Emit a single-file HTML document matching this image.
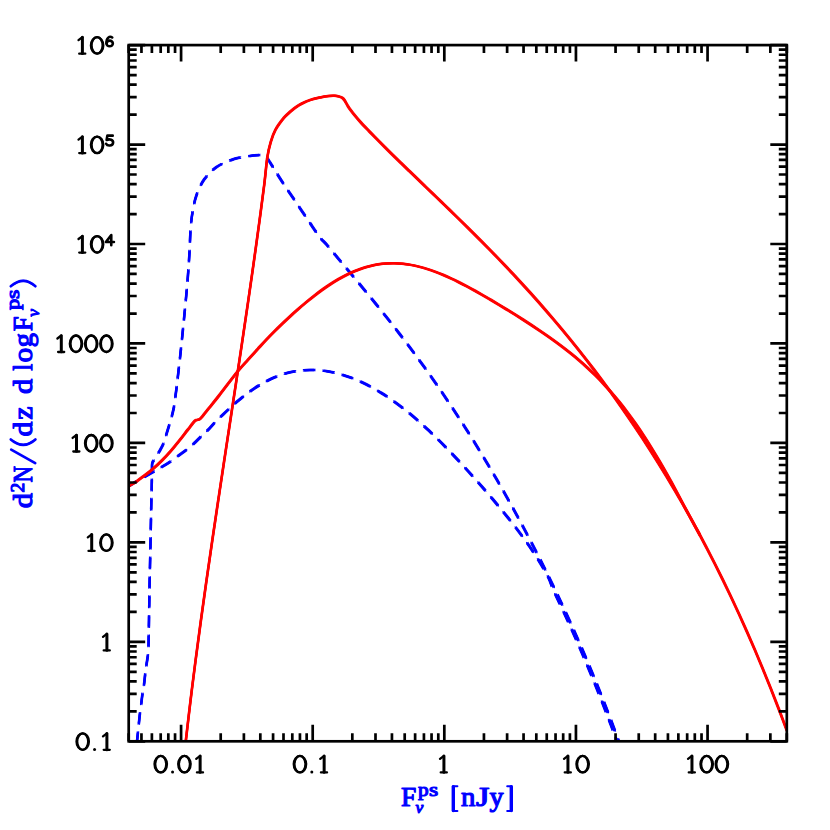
<!DOCTYPE html>
<html><head><meta charset="utf-8"><style>
html,body{margin:0;padding:0;background:#fff}
body{width:830px;height:830px;position:relative;overflow:hidden;font-family:"Liberation Serif",serif}
.bl{position:absolute;color:#0000ff;font-family:"Liberation Serif",serif;font-weight:bold;white-space:nowrap;line-height:1}
</style></head><body>
<svg width="830" height="830" viewBox="0 0 830 830" style="position:absolute;left:0;top:0">
<defs><clipPath id="cp"><rect x="128.70" y="45.10" width="658.10" height="696.20"/></clipPath></defs>
<defs><path id="pB1" d="M137.00,741.30 C137.20,739.43 137.77,734.23 138.20,730.10 C138.63,725.97 139.07,721.12 139.60,716.50 C140.13,711.88 140.88,706.45 141.40,702.40 C141.92,698.35 142.23,695.42 142.70,692.20 C143.17,688.98 143.75,686.42 144.20,683.10 C144.65,679.78 145.00,675.50 145.40,672.30 C145.80,669.10 146.15,667.02 146.60,663.90 C147.05,660.78 147.77,657.18 148.10,653.60 C148.43,650.02 148.40,651.33 148.60,642.40 C148.80,633.47 149.10,611.30 149.30,600.00 C149.50,588.70 149.58,584.87 149.80,574.60 C150.02,564.33 150.35,550.45 150.60,538.40 C150.85,526.35 151.12,510.53 151.30,502.30 C151.48,494.07 151.58,494.38 151.70,489.00 C151.82,483.62 151.92,474.25 152.00,470.00 C152.08,465.75 151.88,465.15 152.20,463.50 C152.52,461.85 152.62,462.28 153.90,460.10 C155.18,457.92 158.28,453.22 159.90,450.40 C161.52,447.58 162.48,446.00 163.60,443.20 C164.72,440.40 165.60,436.82 166.60,433.60 C167.60,430.38 168.60,427.32 169.60,423.90 C170.60,420.48 171.80,416.32 172.60,413.10 C173.40,409.88 173.90,407.62 174.40,404.60 C174.90,401.58 175.23,397.88 175.60,395.00 C175.97,392.12 175.83,393.80 176.60,387.30 C177.37,380.80 178.98,367.23 180.20,356.00 C181.42,344.77 182.68,332.35 183.90,319.90 C185.12,307.45 186.57,292.62 187.50,281.30 C188.43,269.98 188.98,260.77 189.50,252.00 C190.02,243.23 190.08,235.40 190.60,228.70 C191.12,222.00 191.60,217.43 192.60,211.80 C193.60,206.17 194.65,200.32 196.60,194.90 C198.55,189.48 201.00,183.92 204.30,179.30 C207.60,174.68 211.57,170.53 216.40,167.20 C221.23,163.87 227.68,161.18 233.30,159.30 C238.92,157.42 245.68,156.62 250.10,155.90 C254.52,155.18 257.28,155.05 259.80,155.00 C262.32,154.95 263.83,154.90 265.20,155.60 C266.57,156.30 266.68,157.25 268.00,159.20 C269.32,161.15 271.43,164.63 273.10,167.30 C274.77,169.97 276.30,172.52 278.00,175.20 C279.70,177.88 281.55,180.73 283.30,183.40 C285.05,186.07 286.68,188.50 288.50,191.20 C290.32,193.90 292.37,196.88 294.20,199.60 C296.03,202.32 297.60,204.68 299.50,207.50 C301.40,210.32 303.77,213.78 305.60,216.50 C307.43,219.22 308.73,221.18 310.50,223.80 C312.27,226.42 314.50,229.77 316.20,232.20 C317.90,234.63 318.90,236.27 320.70,238.40 C322.50,240.53 324.60,242.24 327.00,244.97 C329.40,247.70 332.40,251.51 335.11,254.76 C337.81,258.01 340.51,261.24 343.21,264.48 C345.91,267.71 348.61,270.94 351.32,274.18 C354.02,277.42 356.72,280.65 359.42,283.91 C362.12,287.17 364.83,290.43 367.53,293.71 C370.23,297.00 372.93,300.30 375.63,303.63 C378.34,306.96 381.04,310.31 383.74,313.70 C386.44,317.08 389.14,320.49 391.84,323.94 C394.55,327.38 397.25,330.86 399.95,334.38 C402.65,337.89 405.35,341.44 408.06,345.03 C410.76,348.63 413.46,352.25 416.16,355.93 C418.86,359.60 421.56,363.32 424.27,367.08 C426.97,370.83 429.67,374.64 432.37,378.49 C435.07,382.33 437.78,386.23 440.48,390.17 C443.18,394.11 445.88,398.10 448.58,402.14 C451.29,406.18 453.99,410.26 456.69,414.40 C459.39,418.53 462.09,422.72 464.79,426.95 C467.50,431.19 470.20,435.48 472.90,439.82 C475.60,444.15 478.30,448.54 481.01,452.99 C483.71,457.43 486.41,461.93 489.11,466.48 C491.81,471.03 494.51,475.64 497.22,480.30 C499.92,484.97 502.62,489.68 505.32,494.46 C508.02,499.24 510.73,504.07 513.43,508.97 C516.13,513.87 518.83,518.82 521.53,523.85 C524.24,528.87 526.94,533.95 529.64,539.10 C532.34,544.26 535.04,549.47 537.74,554.76 C540.45,560.06 543.15,565.41 545.85,570.85 C548.55,576.29 551.25,581.80 553.96,587.40 C556.66,592.99 559.36,598.66 562.06,604.43 C564.76,610.19 567.46,616.04 570.17,621.98 C572.87,627.93 575.57,633.97 578.27,640.11 C580.97,646.26 583.68,652.50 586.38,658.86 C589.08,665.22 591.78,671.68 594.48,678.27 C597.19,684.87 599.89,691.58 602.59,698.43 C605.29,705.28 607.99,712.25 610.69,719.38 C613.40,726.52 617.45,737.57 618.80,741.22 C620.15,744.88 618.80,741.29 618.80,741.30"/><path id="pB2" d="M128.70,486.20 C130.08,485.37 134.20,482.85 137.00,481.20 C139.80,479.55 142.68,477.92 145.50,476.30 C148.32,474.68 151.10,473.10 153.90,471.50 C156.70,469.90 159.48,468.40 162.30,466.70 C165.12,465.00 167.98,463.22 170.80,461.30 C173.62,459.38 176.60,457.12 179.20,455.20 C181.80,453.28 183.88,451.80 186.40,449.80 C188.92,447.80 191.88,445.40 194.30,443.20 C196.72,441.00 198.60,438.82 200.90,436.60 C203.20,434.38 205.78,432.25 208.10,429.90 C210.42,427.55 212.36,425.01 214.80,422.50 C217.24,419.98 220.09,417.33 222.73,414.82 C225.38,412.30 228.02,409.79 230.67,407.39 C233.31,404.99 235.96,402.65 238.60,400.42 C241.24,398.20 243.89,396.06 246.53,394.05 C249.18,392.04 251.82,390.14 254.47,388.37 C257.11,386.60 259.76,384.95 262.40,383.43 C265.04,381.92 267.69,380.53 270.33,379.27 C272.98,378.02 275.62,376.89 278.27,375.89 C280.91,374.90 283.56,374.03 286.20,373.29 C288.84,372.55 291.49,371.94 294.13,371.44 C296.78,370.94 299.42,370.57 302.07,370.31 C304.71,370.06 307.36,369.92 310.00,369.89 C312.64,369.85 315.29,369.94 317.93,370.12 C320.58,370.31 323.22,370.61 325.87,371.00 C328.51,371.39 331.16,371.89 333.80,372.48 C336.44,373.07 339.09,373.77 341.73,374.55 C344.38,375.33 347.02,376.21 349.67,377.18 C352.31,378.15 354.96,379.21 357.60,380.35 C360.24,381.50 362.89,382.73 365.53,384.05 C368.18,385.37 370.82,386.78 373.47,388.27 C376.11,389.75 378.76,391.33 381.40,392.98 C384.04,394.63 386.69,396.36 389.33,398.17 C391.98,399.98 394.62,401.87 397.27,403.83 C399.91,405.79 402.56,407.83 405.20,409.94 C407.84,412.04 410.49,414.23 413.13,416.47 C415.78,418.72 418.42,421.03 421.07,423.41 C423.71,425.78 426.36,428.22 429.00,430.71 C431.64,433.21 434.29,435.76 436.93,438.37 C439.58,440.97 442.22,443.63 444.87,446.33 C447.51,449.02 450.16,451.78 452.80,454.56 C455.44,457.35 458.09,460.18 460.73,463.04 C463.38,465.90 466.02,468.80 468.67,471.73 C471.31,474.65 473.96,477.62 476.60,480.61 C479.24,483.60 481.89,486.62 484.53,489.67 C487.18,492.72 489.82,495.80 492.47,498.92 C495.11,502.03 497.76,505.18 500.40,508.38 C503.04,511.59 505.69,514.82 508.33,518.13 C510.98,521.44 513.62,524.80 516.27,528.26 C518.91,531.73 521.56,535.25 524.20,538.93 C526.84,542.61 529.49,546.37 532.13,550.35 C534.78,554.33 537.42,558.42 540.07,562.80 C542.71,567.19 545.66,571.87 548.00,576.67 C550.34,581.48 551.75,586.33 554.10,591.64 C556.45,596.96 559.43,602.85 562.10,608.58 C564.77,614.31 567.43,620.12 570.10,626.03 C572.77,631.95 575.43,637.94 578.10,644.05 C580.77,650.16 583.43,656.36 586.10,662.69 C588.77,669.01 591.43,675.43 594.10,681.99 C596.77,688.54 599.43,695.21 602.10,702.02 C604.77,708.83 607.63,716.31 610.10,722.84 C612.57,729.38 615.77,738.15 616.90,741.22 C618.03,744.30 616.90,741.29 616.90,741.30"/><path id="pR1" d="M185.76,741.30 C186.53,734.68 188.80,714.80 190.40,701.56 C192.00,688.31 193.68,675.08 195.39,661.83 C197.10,648.59 198.88,635.34 200.68,622.09 C202.49,608.85 204.34,595.61 206.22,582.36 C208.10,569.12 210.03,555.87 211.97,542.62 C213.91,529.38 215.88,516.13 217.86,502.89 C219.84,489.64 221.84,476.40 223.84,463.15 C225.84,449.90 227.87,436.66 229.88,423.41 C231.89,410.17 233.91,396.93 235.91,383.68 C237.91,370.44 239.91,357.19 241.88,343.94 C243.85,330.69 245.82,317.45 247.75,304.21 C249.68,290.96 251.59,277.72 253.46,264.47 C255.33,251.23 257.17,237.99 258.96,224.74 C260.75,211.50 262.81,196.21 264.20,185.00 C265.59,173.79 266.23,164.58 267.30,157.50 C268.37,150.42 269.25,147.10 270.60,142.50 C271.95,137.90 273.18,134.02 275.40,129.90 C277.62,125.78 281.47,120.80 283.90,117.80 C286.33,114.80 287.98,113.68 290.00,111.90 C292.02,110.12 294.00,108.50 296.00,107.10 C298.00,105.70 299.58,104.70 302.00,103.50 C304.42,102.30 307.48,100.90 310.50,99.90 C313.52,98.90 317.08,98.15 320.10,97.50 C323.12,96.85 326.18,96.30 328.60,96.00 C331.02,95.70 332.80,95.60 334.60,95.70 C336.40,95.80 338.00,96.17 339.40,96.60 C340.80,97.03 342.00,97.45 343.00,98.30 C344.00,99.15 344.60,100.43 345.40,101.70 C346.20,102.97 347.00,104.60 347.80,105.90 C348.60,107.20 348.98,107.85 350.20,109.50 C351.42,111.15 353.30,113.61 355.10,115.80 C356.90,117.99 358.68,120.12 361.00,122.66 C363.32,125.20 366.35,128.28 369.03,131.05 C371.71,133.82 374.39,136.56 377.07,139.27 C379.75,141.99 382.42,144.67 385.10,147.34 C387.78,150.01 390.46,152.66 393.14,155.30 C395.82,157.94 398.49,160.56 401.17,163.17 C403.85,165.78 406.52,168.38 409.20,170.97 C411.88,173.56 414.56,176.14 417.24,178.72 C419.92,181.30 422.59,183.88 425.27,186.45 C427.95,189.02 430.63,191.59 433.31,194.17 C435.99,196.75 438.66,199.32 441.34,201.91 C444.02,204.50 446.69,207.08 449.37,209.68 C452.05,212.28 454.73,214.88 457.41,217.49 C460.09,220.11 462.76,222.73 465.44,225.37 C468.12,228.01 470.80,230.66 473.48,233.32 C476.16,235.98 478.83,238.66 481.51,241.36 C484.19,244.06 486.86,246.78 489.54,249.51 C492.22,252.24 494.90,255.00 497.58,257.77 C500.26,260.54 502.93,263.33 505.61,266.15 C508.29,268.97 510.97,271.81 513.65,274.68 C516.33,277.55 519.00,280.43 521.68,283.35 C524.36,286.27 527.03,289.21 529.71,292.18 C532.39,295.15 535.07,298.14 537.75,301.17 C540.43,304.20 543.10,307.26 545.78,310.35 C548.46,313.44 551.14,316.56 553.82,319.71 C556.50,322.86 559.17,326.04 561.85,329.26 C564.53,332.48 567.20,335.73 569.88,339.02 C572.56,342.31 575.24,345.64 577.92,349.00 C580.60,352.36 583.27,355.76 585.95,359.20 C588.63,362.64 591.30,366.11 593.98,369.63 C596.66,373.15 599.34,376.71 602.02,380.31 C604.70,383.91 607.37,387.56 610.05,391.25 C612.73,394.94 615.41,398.68 618.09,402.46 C620.77,406.24 623.44,410.06 626.12,413.94 C628.80,417.82 631.47,421.74 634.15,425.72 C636.83,429.70 639.51,433.72 642.19,437.80 C644.87,441.88 647.54,446.02 650.22,450.21 C652.90,454.40 655.58,458.64 658.26,462.95 C660.94,467.25 663.61,471.61 666.29,476.04 C668.97,480.47 671.64,484.96 674.32,489.51 C677.00,494.06 679.68,498.68 682.36,503.36 C685.04,508.05 687.71,512.79 690.39,517.62 C693.07,522.45 695.75,527.35 698.43,532.32 C701.11,537.30 703.78,542.34 706.46,547.47 C709.14,552.60 711.81,557.81 714.49,563.10 C717.17,568.39 719.85,573.77 722.53,579.24 C725.21,584.71 727.88,590.26 730.56,595.91 C733.24,601.56 735.92,607.29 738.60,613.14 C741.28,618.99 743.95,624.93 746.63,630.98 C749.31,637.03 751.98,643.17 754.66,649.44 C757.34,655.71 760.02,662.08 762.70,668.58 C765.38,675.08 768.05,681.68 770.73,688.42 C773.41,695.16 776.09,702.01 778.77,709.00 C781.45,715.99 785.46,726.82 786.80,730.38"/><path id="pR2" d="M128.70,486.20 C130.08,485.35 134.40,482.85 137.00,481.10 C139.60,479.35 141.68,477.70 144.30,475.70 C146.92,473.70 149.70,471.70 152.70,469.10 C155.70,466.50 159.28,463.12 162.30,460.10 C165.32,457.08 167.98,454.22 170.80,451.00 C173.62,447.78 176.38,444.32 179.20,440.80 C182.02,437.28 185.08,433.22 187.70,429.90 C190.32,426.58 193.30,422.57 194.90,420.90 C196.50,419.23 196.50,420.20 197.30,419.90 C198.10,419.60 198.90,419.63 199.70,419.10 C200.50,418.57 200.50,418.60 202.10,416.70 C203.70,414.80 206.48,411.22 209.30,407.70 C212.12,404.18 214.28,401.63 219.00,395.60 C223.72,389.57 232.77,377.47 237.60,371.50 C242.43,365.53 244.60,363.59 248.00,359.80 C251.40,356.01 254.99,352.06 258.00,348.76 C261.01,345.47 263.36,342.86 266.04,340.02 C268.72,337.19 271.39,334.45 274.07,331.76 C276.75,329.07 279.43,326.45 282.11,323.88 C284.79,321.31 287.47,318.79 290.15,316.33 C292.82,313.87 295.50,311.46 298.18,309.12 C300.86,306.77 303.54,304.48 306.22,302.25 C308.90,300.03 311.58,297.87 314.25,295.79 C316.93,293.71 319.61,291.69 322.29,289.77 C324.97,287.85 327.65,286.00 330.33,284.25 C333.01,282.51 335.68,280.84 338.36,279.29 C341.04,277.74 343.72,276.28 346.40,274.94 C349.08,273.60 351.76,272.36 354.44,271.24 C357.12,270.12 359.79,269.12 362.47,268.23 C365.15,267.34 367.83,266.57 370.51,265.92 C373.19,265.27 375.87,264.74 378.55,264.33 C381.22,263.92 383.90,263.63 386.58,263.45 C389.26,263.27 391.94,263.21 394.62,263.27 C397.30,263.32 399.98,263.49 402.65,263.76 C405.33,264.03 408.01,264.41 410.69,264.88 C413.37,265.36 416.05,265.94 418.73,266.61 C421.41,267.27 424.08,268.03 426.76,268.87 C429.44,269.71 432.12,270.64 434.80,271.63 C437.48,272.62 440.16,273.69 442.84,274.82 C445.52,275.95 448.19,277.14 450.87,278.39 C453.55,279.63 456.23,280.93 458.91,282.27 C461.59,283.61 464.27,285.00 466.95,286.42 C469.62,287.84 472.30,289.31 474.98,290.79 C477.66,292.28 480.34,293.80 483.02,295.33 C485.70,296.87 488.38,298.44 491.05,300.02 C493.73,301.60 496.41,303.20 499.09,304.81 C501.77,306.43 504.45,308.06 507.13,309.71 C509.81,311.36 512.48,313.02 515.16,314.70 C517.84,316.38 520.52,318.07 523.20,319.78 C525.88,321.49 528.56,323.22 531.24,324.98 C533.92,326.73 536.59,328.51 539.27,330.31 C541.95,332.12 544.63,333.95 547.31,335.82 C549.99,337.70 552.67,339.60 555.35,341.55 C558.02,343.51 560.70,345.50 563.38,347.55 C566.06,349.61 568.74,351.71 571.42,353.89 C574.10,356.06 576.78,358.29 579.45,360.61 C582.13,362.93 584.81,365.31 587.49,367.80 C590.17,370.28 592.85,372.84 595.53,375.51 C598.21,378.17 600.88,380.93 603.56,383.80 C606.24,386.68 608.92,389.65 611.60,392.75 C614.28,395.85 616.96,399.05 619.64,402.39 C622.32,405.72 624.99,409.18 627.67,412.76 C630.35,416.34 633.03,420.05 635.71,423.89 C638.39,427.73 641.07,431.70 643.75,435.79 C646.42,439.88 649.10,444.10 651.78,448.43 C654.46,452.77 657.14,457.23 659.82,461.79 C662.50,466.35 665.18,471.04 667.85,475.80 C670.53,480.56 673.21,485.40 675.89,490.37 C678.57,495.34 681.25,500.59 683.93,505.62 C686.61,510.64 689.28,515.59 691.96,520.53 C694.64,525.47 698.66,532.80 700.00,535.25"/></defs>
<g clip-path="url(#cp)" fill="none" stroke-linejoin="round">
<g stroke="#0000ff" stroke-dasharray="11.3 8.2" stroke-dashoffset="2"><use href="#pB1" stroke-width="2.00"/><use href="#pB1" stroke-width="1.05" transform="translate(0.72,0.72)"/><use href="#pB1" stroke-width="1.05" transform="translate(0.72,-0.72)"/><use href="#pB1" stroke-width="1.05" transform="translate(-0.72,0.72)"/><use href="#pB1" stroke-width="1.05" transform="translate(-0.72,-0.72)"/></g>
<g stroke="#0000ff" stroke-dasharray="11.3 8.2" stroke-dashoffset="1.4"><use href="#pB2" stroke-width="2.00"/><use href="#pB2" stroke-width="1.05" transform="translate(0.72,0.72)"/><use href="#pB2" stroke-width="1.05" transform="translate(0.72,-0.72)"/><use href="#pB2" stroke-width="1.05" transform="translate(-0.72,0.72)"/><use href="#pB2" stroke-width="1.05" transform="translate(-0.72,-0.72)"/></g>
<g stroke="#ff0000" ><use href="#pR1" stroke-width="2.00"/><use href="#pR1" stroke-width="1.05" transform="translate(0.72,0.72)"/><use href="#pR1" stroke-width="1.05" transform="translate(0.72,-0.72)"/><use href="#pR1" stroke-width="1.05" transform="translate(-0.72,0.72)"/><use href="#pR1" stroke-width="1.05" transform="translate(-0.72,-0.72)"/></g>
<g stroke="#ff0000" ><use href="#pR2" stroke-width="2.00"/><use href="#pR2" stroke-width="1.05" transform="translate(0.72,0.72)"/><use href="#pR2" stroke-width="1.05" transform="translate(0.72,-0.72)"/><use href="#pR2" stroke-width="1.05" transform="translate(-0.72,0.72)"/><use href="#pR2" stroke-width="1.05" transform="translate(-0.72,-0.72)"/></g>
</g>
<path d="M128.70,45.10v8.00M128.70,741.30v-8.00M141.46,45.10v8.00M141.46,741.30v-8.00M151.88,45.10v8.00M151.88,741.30v-8.00M160.69,45.10v8.00M160.69,741.30v-8.00M168.32,45.10v8.00M168.32,741.30v-8.00M175.05,45.10v8.00M175.05,741.30v-8.00M181.08,45.10v16.50M181.08,741.30v-16.50M220.70,45.10v8.00M220.70,741.30v-8.00M243.88,45.10v8.00M243.88,741.30v-8.00M260.32,45.10v8.00M260.32,741.30v-8.00M273.08,45.10v8.00M273.08,741.30v-8.00M283.50,45.10v8.00M283.50,741.30v-8.00M292.31,45.10v8.00M292.31,741.30v-8.00M299.94,45.10v8.00M299.94,741.30v-8.00M306.67,45.10v8.00M306.67,741.30v-8.00M312.70,45.10v16.50M312.70,741.30v-16.50M352.32,45.10v8.00M352.32,741.30v-8.00M375.50,45.10v8.00M375.50,741.30v-8.00M391.94,45.10v8.00M391.94,741.30v-8.00M404.70,45.10v8.00M404.70,741.30v-8.00M415.12,45.10v8.00M415.12,741.30v-8.00M423.93,45.10v8.00M423.93,741.30v-8.00M431.56,45.10v8.00M431.56,741.30v-8.00M438.29,45.10v8.00M438.29,741.30v-8.00M444.32,45.10v16.50M444.32,741.30v-16.50M483.94,45.10v8.00M483.94,741.30v-8.00M507.12,45.10v8.00M507.12,741.30v-8.00M523.56,45.10v8.00M523.56,741.30v-8.00M536.32,45.10v8.00M536.32,741.30v-8.00M546.74,45.10v8.00M546.74,741.30v-8.00M555.55,45.10v8.00M555.55,741.30v-8.00M563.18,45.10v8.00M563.18,741.30v-8.00M569.91,45.10v8.00M569.91,741.30v-8.00M575.94,45.10v16.50M575.94,741.30v-16.50M615.56,45.10v8.00M615.56,741.30v-8.00M638.74,45.10v8.00M638.74,741.30v-8.00M655.18,45.10v8.00M655.18,741.30v-8.00M667.94,45.10v8.00M667.94,741.30v-8.00M678.36,45.10v8.00M678.36,741.30v-8.00M687.17,45.10v8.00M687.17,741.30v-8.00M694.80,45.10v8.00M694.80,741.30v-8.00M701.53,45.10v8.00M701.53,741.30v-8.00M707.56,45.10v16.50M707.56,741.30v-16.50M747.18,45.10v8.00M747.18,741.30v-8.00M770.36,45.10v8.00M770.36,741.30v-8.00M786.80,45.10v8.00M786.80,741.30v-8.00M128.70,741.30h16.50M786.80,741.30h-16.50M128.70,711.36h8.00M786.80,711.36h-8.00M128.70,693.85h8.00M786.80,693.85h-8.00M128.70,681.42h8.00M786.80,681.42h-8.00M128.70,671.78h8.00M786.80,671.78h-8.00M128.70,663.91h8.00M786.80,663.91h-8.00M128.70,657.25h8.00M786.80,657.25h-8.00M128.70,651.48h8.00M786.80,651.48h-8.00M128.70,646.39h8.00M786.80,646.39h-8.00M128.70,641.84h16.50M786.80,641.84h-16.50M128.70,611.90h8.00M786.80,611.90h-8.00M128.70,594.39h8.00M786.80,594.39h-8.00M128.70,581.96h8.00M786.80,581.96h-8.00M128.70,572.33h8.00M786.80,572.33h-8.00M128.70,564.45h8.00M786.80,564.45h-8.00M128.70,557.79h8.00M786.80,557.79h-8.00M128.70,552.02h8.00M786.80,552.02h-8.00M128.70,546.94h8.00M786.80,546.94h-8.00M128.70,542.39h16.50M786.80,542.39h-16.50M128.70,512.45h8.00M786.80,512.45h-8.00M128.70,494.93h8.00M786.80,494.93h-8.00M128.70,482.51h8.00M786.80,482.51h-8.00M128.70,472.87h8.00M786.80,472.87h-8.00M128.70,464.99h8.00M786.80,464.99h-8.00M128.70,458.33h8.00M786.80,458.33h-8.00M128.70,452.57h8.00M786.80,452.57h-8.00M128.70,447.48h8.00M786.80,447.48h-8.00M128.70,442.93h16.50M786.80,442.93h-16.50M128.70,412.99h8.00M786.80,412.99h-8.00M128.70,395.48h8.00M786.80,395.48h-8.00M128.70,383.05h8.00M786.80,383.05h-8.00M128.70,373.41h8.00M786.80,373.41h-8.00M128.70,365.54h8.00M786.80,365.54h-8.00M128.70,358.88h8.00M786.80,358.88h-8.00M128.70,353.11h8.00M786.80,353.11h-8.00M128.70,348.02h8.00M786.80,348.02h-8.00M128.70,343.47h16.50M786.80,343.47h-16.50M128.70,313.53h8.00M786.80,313.53h-8.00M128.70,296.02h8.00M786.80,296.02h-8.00M128.70,283.59h8.00M786.80,283.59h-8.00M128.70,273.95h8.00M786.80,273.95h-8.00M128.70,266.08h8.00M786.80,266.08h-8.00M128.70,259.42h8.00M786.80,259.42h-8.00M128.70,253.65h8.00M786.80,253.65h-8.00M128.70,248.57h8.00M786.80,248.57h-8.00M128.70,244.01h16.50M786.80,244.01h-16.50M128.70,214.07h8.00M786.80,214.07h-8.00M128.70,196.56h8.00M786.80,196.56h-8.00M128.70,184.14h8.00M786.80,184.14h-8.00M128.70,174.50h8.00M786.80,174.50h-8.00M128.70,166.62h8.00M786.80,166.62h-8.00M128.70,159.96h8.00M786.80,159.96h-8.00M128.70,154.20h8.00M786.80,154.20h-8.00M128.70,149.11h8.00M786.80,149.11h-8.00M128.70,144.56h16.50M786.80,144.56h-16.50M128.70,114.62h8.00M786.80,114.62h-8.00M128.70,97.10h8.00M786.80,97.10h-8.00M128.70,84.68h8.00M786.80,84.68h-8.00M128.70,75.04h8.00M786.80,75.04h-8.00M128.70,67.16h8.00M786.80,67.16h-8.00M128.70,60.51h8.00M786.80,60.51h-8.00M128.70,54.74h8.00M786.80,54.74h-8.00M128.70,49.65h8.00M786.80,49.65h-8.00M128.70,45.10h16.50M786.80,45.10h-16.50" stroke="#000" stroke-width="2.7" fill="none"/>
<rect x="128.70" y="45.10" width="658.10" height="696.20" fill="none" stroke="#000" stroke-width="2.7"/>
<g fill="none" stroke="#000" stroke-width="2.3" stroke-linecap="round" stroke-linejoin="round">
<path d="M57.40,338.47 L61.30,335.52 M58.10,352.02 H64.20"/><path stroke-width="3.0" d="M61.30,335.67 V351.87"/><ellipse cx="76.00" cy="343.77" rx="6.20" ry="8.25"/><ellipse cx="76.00" cy="343.77" rx="5.50" ry="8.25"/><ellipse cx="91.20" cy="343.77" rx="6.20" ry="8.25"/><ellipse cx="91.20" cy="343.77" rx="5.50" ry="8.25"/><ellipse cx="106.40" cy="343.77" rx="6.20" ry="8.25"/><ellipse cx="106.40" cy="343.77" rx="5.50" ry="8.25"/>
<path d="M72.60,437.93 L76.50,434.98 M73.30,451.48 H79.40"/><path stroke-width="3.0" d="M76.50,435.13 V451.33"/><ellipse cx="91.20" cy="443.23" rx="6.20" ry="8.25"/><ellipse cx="91.20" cy="443.23" rx="5.50" ry="8.25"/><ellipse cx="106.40" cy="443.23" rx="6.20" ry="8.25"/><ellipse cx="106.40" cy="443.23" rx="5.50" ry="8.25"/>
<path d="M87.80,537.39 L91.70,534.44 M88.50,550.94 H94.60"/><path stroke-width="3.0" d="M91.70,534.59 V550.79"/><ellipse cx="106.40" cy="542.69" rx="6.20" ry="8.25"/><ellipse cx="106.40" cy="542.69" rx="5.50" ry="8.25"/>
<path d="M103.00,636.84 L106.90,633.89 M103.70,650.39 H109.80"/><path stroke-width="3.0" d="M106.90,634.04 V650.24"/>
<ellipse cx="82.70" cy="741.60" rx="6.20" ry="8.25"/><ellipse cx="82.70" cy="741.60" rx="5.50" ry="8.25"/><circle cx="94.55" cy="749.50" r="1.5" fill="#000" stroke="none"/><path d="M103.00,736.30 L106.90,733.35 M103.70,749.85 H109.80"/><path stroke-width="3.0" d="M106.90,733.50 V749.70"/>
<path d="M78.50,40.10 L82.40,37.15 M79.20,53.65 H85.30"/><path stroke-width="3.0" d="M82.40,37.30 V53.50"/><ellipse cx="97.10" cy="45.40" rx="6.20" ry="8.25"/><ellipse cx="97.10" cy="45.40" rx="5.50" ry="8.25"/>
<g stroke-width="2.6"><path d="M112.23,37.45 C109.67,35.58 106.13,37.76 106.50,43.48"/><ellipse cx="109.67" cy="43.48" rx="3.17" ry="2.81"/></g>
<path d="M78.50,139.56 L82.40,136.61 M79.20,153.11 H85.30"/><path stroke-width="3.0" d="M82.40,136.76 V152.96"/><ellipse cx="97.10" cy="144.86" rx="6.20" ry="8.25"/><ellipse cx="97.10" cy="144.86" rx="5.50" ry="8.25"/>
<g stroke-width="2.6"><path d="M112.72,135.66 H107.35 L106.62,140.03 C109.67,138.57 113.45,139.82 113.09,142.73 C112.72,146.27 107.23,146.27 106.13,143.77"/></g>
<path d="M78.50,239.01 L82.40,236.06 M79.20,252.56 H85.30"/><path stroke-width="3.0" d="M82.40,236.21 V252.41"/><ellipse cx="97.10" cy="244.31" rx="6.20" ry="8.25"/><ellipse cx="97.10" cy="244.31" rx="5.50" ry="8.25"/>
<g stroke-width="2.6"><path d="M111.26,245.20 V235.11 L105.89,241.98 H113.94"/></g>
<ellipse cx="160.73" cy="764.20" rx="6.20" ry="8.25"/><ellipse cx="160.73" cy="764.20" rx="5.50" ry="8.25"/><circle cx="172.58" cy="772.10" r="1.5" fill="#000" stroke="none"/><ellipse cx="184.43" cy="764.20" rx="6.20" ry="8.25"/><ellipse cx="184.43" cy="764.20" rx="5.50" ry="8.25"/><path d="M196.23,758.90 L200.13,755.95 M196.93,772.45 H203.03"/><path stroke-width="3.0" d="M200.13,756.10 V772.30"/>
<ellipse cx="299.95" cy="764.20" rx="6.20" ry="8.25"/><ellipse cx="299.95" cy="764.20" rx="5.50" ry="8.25"/><circle cx="311.80" cy="772.10" r="1.5" fill="#000" stroke="none"/><path d="M320.25,758.90 L324.15,755.95 M320.95,772.45 H327.05"/><path stroke-width="3.0" d="M324.15,756.10 V772.30"/>
<path d="M440.02,758.90 L443.92,755.95 M440.72,772.45 H446.82"/><path stroke-width="3.0" d="M443.92,756.10 V772.30"/>
<path d="M564.04,758.90 L567.94,755.95 M564.74,772.45 H570.84"/><path stroke-width="3.0" d="M567.94,756.10 V772.30"/><ellipse cx="582.64" cy="764.20" rx="6.20" ry="8.25"/><ellipse cx="582.64" cy="764.20" rx="5.50" ry="8.25"/>
<path d="M688.06,758.90 L691.96,755.95 M688.76,772.45 H694.86"/><path stroke-width="3.0" d="M691.96,756.10 V772.30"/><ellipse cx="706.66" cy="764.20" rx="6.20" ry="8.25"/><ellipse cx="706.66" cy="764.20" rx="5.50" ry="8.25"/><ellipse cx="721.86" cy="764.20" rx="6.20" ry="8.25"/><ellipse cx="721.86" cy="764.20" rx="5.50" ry="8.25"/>
</g>
</svg>
<svg width="830" height="830" viewBox="0 0 830 830" style="position:absolute;left:0;top:0">
<g font-family="Liberation Serif" font-weight="normal" fill="#0000ff" stroke="#0000ff" stroke-width="1.15" stroke-linejoin="round">
<text x="400.90" y="806.30" font-size="27.2" textLength="15.3" lengthAdjust="spacingAndGlyphs">F</text>
<text x="418.00" y="795.60" font-size="19.3" textLength="10.6" lengthAdjust="spacingAndGlyphs">p</text>
<text x="429.00" y="795.60" font-size="19.3" textLength="9.2" lengthAdjust="spacingAndGlyphs">s</text>
<text x="415.60" y="813.30" font-size="17.5" font-style="italic">ν</text>
<text x="461.00" y="806.30" font-size="27.2" textLength="14.4" lengthAdjust="spacingAndGlyphs">n</text>
<text x="476.00" y="806.30" font-size="27.2" textLength="13.4" lengthAdjust="spacingAndGlyphs">J</text>
<text x="489.40" y="806.30" font-size="27.2" textLength="14.0" lengthAdjust="spacingAndGlyphs">y</text>
</g>
<g fill="none" stroke="#0000ff" stroke-linecap="round" stroke-linejoin="round">
<path stroke-width="3.4" d="M453.3,786.6V810.6"/><path stroke-width="2.0" d="M453,786.3H457.4M453,810.9H457.4"/>
<path stroke-width="3.4" d="M511.3,786.6V810.6"/><path stroke-width="2.0" d="M511.6,786.3H507.2M511.6,810.9H507.2"/>
</g>
<g transform="translate(31.8,507.8) rotate(-90)">
<g font-family="Liberation Serif" font-weight="normal" fill="#0000ff" stroke="#0000ff" stroke-width="1.15" stroke-linejoin="round">
<text x="-0.40" y="0.00" font-size="27.2" textLength="15.2" lengthAdjust="spacingAndGlyphs">d</text>
<text x="15.20" y="-7.90" font-size="18.0" textLength="9.8" lengthAdjust="spacingAndGlyphs">2</text>
<text x="25.40" y="0.00" font-size="27.2" textLength="16.6" lengthAdjust="spacingAndGlyphs">N</text>
<text x="71.20" y="0.00" font-size="27.2" textLength="15.0" lengthAdjust="spacingAndGlyphs">d</text>
<text x="88.00" y="0.00" font-size="27.2" textLength="13.2" lengthAdjust="spacingAndGlyphs">z</text>
<text x="113.90" y="0.00" font-size="27.2" textLength="15.2" lengthAdjust="spacingAndGlyphs">d</text>
<text x="137.00" y="0.00" font-size="27.2" textLength="7.0" lengthAdjust="spacingAndGlyphs">l</text>
<text x="145.20" y="0.00" font-size="27.2" textLength="14.8" lengthAdjust="spacingAndGlyphs">o</text>
<text x="160.60" y="0.00" font-size="27.2" textLength="14.2" lengthAdjust="spacingAndGlyphs">g</text>
<text x="176.50" y="0.00" font-size="27.2" textLength="15.0" lengthAdjust="spacingAndGlyphs">F</text>
<text x="191.00" y="7.00" font-size="17.5" font-style="italic">ν</text>
<text x="197.80" y="-12.60" font-size="19.3" textLength="11.2" lengthAdjust="spacingAndGlyphs">p</text>
<text x="208.80" y="-12.60" font-size="19.3" textLength="9.4" lengthAdjust="spacingAndGlyphs">s</text>
</g>
<g fill="none" stroke="#0000ff" stroke-linecap="round" stroke-width="2.7">
<path d="M44.7,3.4L58.2,-20.6"/>
<path d="M68.4,-21.0Q57.6,-8.4 68.4,3.6"/><path stroke-width="2.0" d="M66.6,-18.2Q59.4,-8.4 66.6,0.8"/>
<path d="M221.6,-21.0Q232.4,-8.4 221.6,3.6"/><path stroke-width="2.0" d="M223.4,-18.2Q230.6,-8.4 223.4,0.8"/>
</g>
</g></svg>
</body></html>
